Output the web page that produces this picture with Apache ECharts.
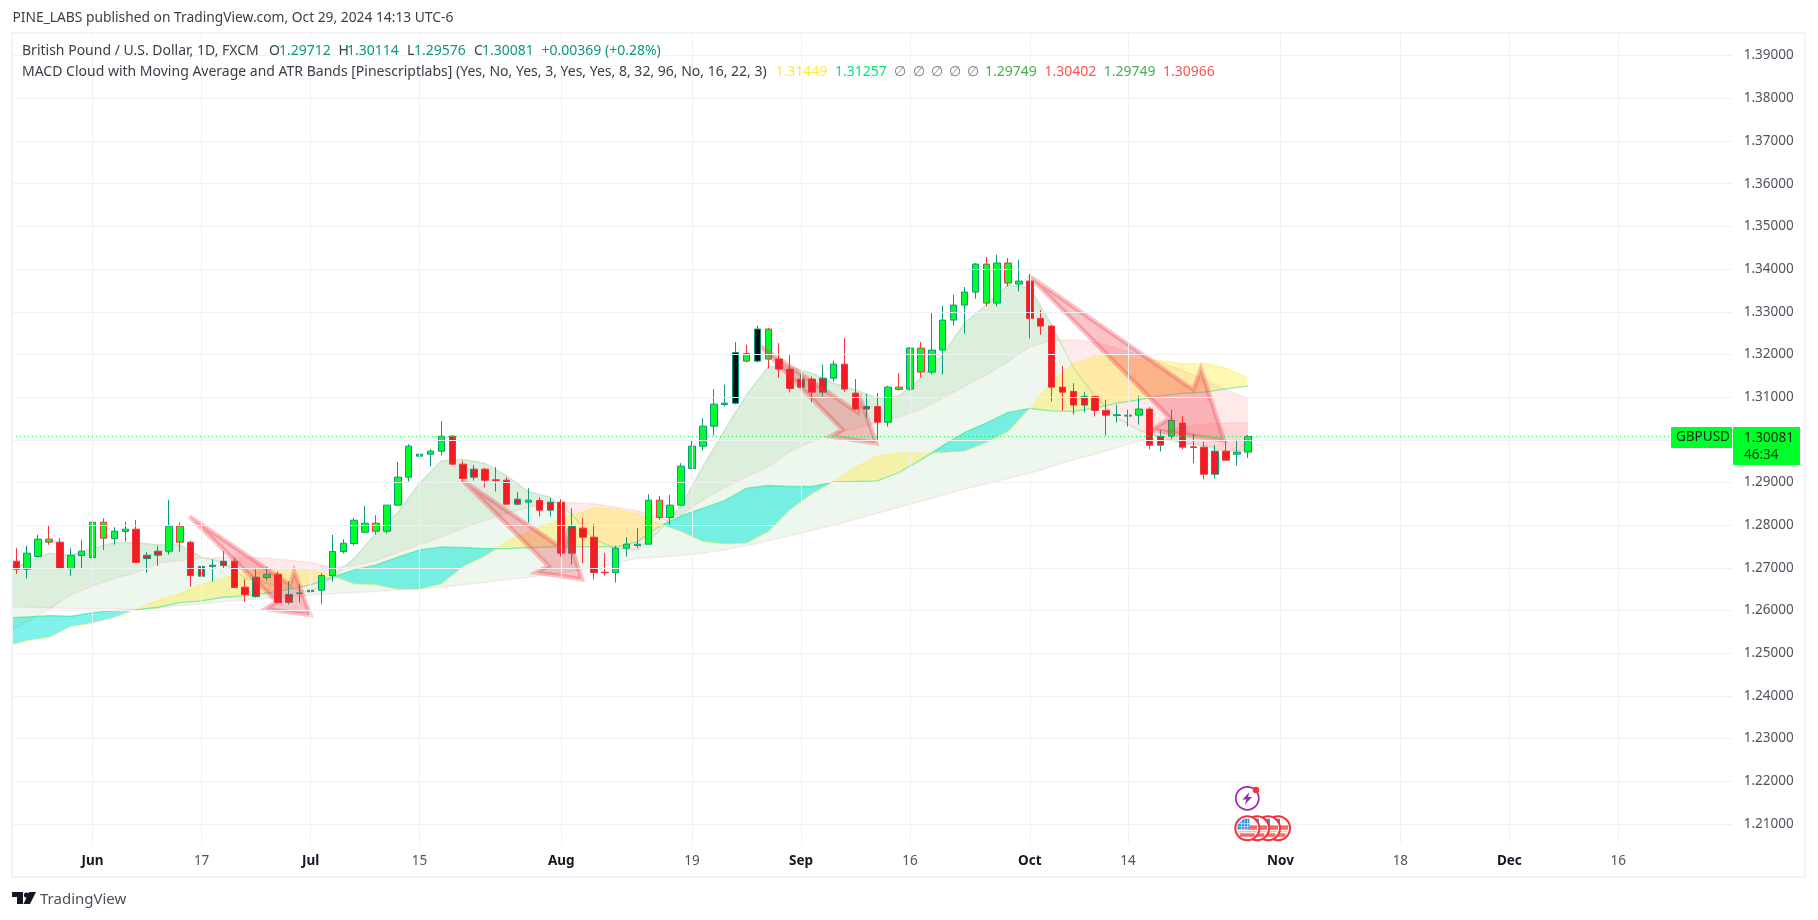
<!DOCTYPE html>
<html><head><meta charset="utf-8">
<style>html,body{margin:0;padding:0;background:#fff}#c{width:1818px;height:920px}</style>
<script src="https://cdn.jsdelivr.net/npm/echarts@6/dist/echarts.min.js"></script>
</head><body><div id="c"></div>
<script>
// --- candles: May 23 .. Oct 29 2024, one entry per session
const opens=[1.27156,1.26969,1.27266,1.27602,1.27602,1.26984,1.27289,1.27242,1.27695,1.27687,
1.27852,1.27906,1.27297,1.27391,1.27391,1.27602,1.27602,1.27031,1.27031,1.27156,
1.27156,1.26547,1.26781,1.26773,1.26852,1.26375,1.26398,1.26445,1.26477,1.2682,
1.27383,1.2757,1.27836,1.27859,1.27859,1.28469,1.29125,1.29617,1.29664,1.29734,
1.30086,1.2943,1.29313,1.29313,1.29063,1.29055,1.28609,1.28539,1.28578,1.28539,
1.28539,1.27969,1.2793,1.27719,1.26898,1.26891,1.27461,1.27523,1.27555,1.2818,
1.2818,1.28469,1.29328,1.29852,1.3032,1.30828,1.30859,1.31844,1.31844,1.31891,
1.31891,1.31656,1.31422,1.31422,1.31445,1.31445,1.31773,1.31094,1.30781,1.30781,
1.30414,1.3118,1.31188,1.31586,1.31586,1.32102,1.32805,1.33156,1.33461,1.33203,
1.33203,1.33672,1.33648,1.33719,1.32844,1.32664,1.31234,1.31133,1.31016,1.31016,
1.30688,1.3057,1.30555,1.30578,1.30719,1.30078,1.30086,1.30391,1.29836,1.29828,
1.29734,1.29734,1.29664,1.29712];
const highs=[1.27461,1.27516,1.27773,1.28008,1.27695,1.27461,1.27656,1.2807,1.28164,1.27953,
1.28078,1.28125,1.27367,1.27516,1.28594,1.2807,1.27633,1.27078,1.27203,1.27391,
1.27227,1.26734,1.26969,1.27016,1.26914,1.26687,1.26617,1.27094,1.26875,1.27773,
1.27672,1.28172,1.28453,1.28234,1.28469,1.29484,1.29898,1.29945,1.29781,1.30438,
1.30109,1.29508,1.29414,1.29336,1.29359,1.29125,1.28773,1.28867,1.28656,1.28633,
1.28609,1.28398,1.28164,1.28023,1.27352,1.27516,1.27719,1.2793,1.28727,1.28688,
1.28711,1.29453,1.29969,1.30508,1.31188,1.31289,1.32289,1.32227,1.32672,1.32625,
1.32266,1.31984,1.31539,1.31484,1.31758,1.31852,1.32383,1.31422,1.31078,1.31094,
1.31266,1.31563,1.32172,1.32289,1.32969,1.33141,1.33398,1.33578,1.34141,1.34281,
1.34336,1.34258,1.34219,1.33883,1.33039,1.32688,1.31734,1.31328,1.31117,1.31016,
1.30938,1.3082,1.30703,1.31031,1.30766,1.30234,1.30703,1.30563,1.30141,1.29953,
1.29875,1.29977,1.3,1.30114];
const lows=[1.26859,1.2675,1.27266,1.27539,1.26984,1.26812,1.27,1.26937,1.27422,1.27547,
1.27617,1.27125,1.26891,1.27047,1.27312,1.27375,1.26562,1.26586,1.2668,1.26984,
1.26539,1.26211,1.26305,1.26703,1.26172,1.26141,1.26187,1.26328,1.26156,1.2668,
1.27336,1.27523,1.27836,1.27781,1.27805,1.28469,1.29023,1.29617,1.29375,1.29633,
1.29398,1.29023,1.29047,1.28883,1.28789,1.28492,1.28469,1.28062,1.28203,1.28203,
1.27266,1.27078,1.27109,1.26727,1.2682,1.26656,1.27266,1.27461,1.27555,1.28125,
1.27984,1.28469,1.29313,1.2975,1.30102,1.30781,1.30828,1.31813,1.31813,1.31672,
1.31453,1.31109,1.31211,1.30883,1.31016,1.31367,1.31125,1.30688,1.30508,1.3,
1.30313,1.31156,1.31156,1.31461,1.31531,1.31531,1.3268,1.32492,1.33305,1.33125,
1.33125,1.33594,1.33477,1.32375,1.32461,1.30898,1.3068,1.30594,1.30641,1.30547,
1.30102,1.30406,1.30313,1.30359,1.29781,1.29727,1.30016,1.29781,1.29453,1.29078,
1.29094,1.29523,1.29398,1.29576];
const closes=[1.26969,1.27344,1.27672,1.27672,1.26984,1.27297,1.27391,1.2807,1.2807,1.27859,
1.27906,1.27125,1.27219,1.27297,1.27977,1.27977,1.2682,1.26805,1.27062,1.27055,
1.26539,1.26375,1.26328,1.26852,1.26187,1.26195,1.26414,1.26477,1.2682,1.27383,
1.27578,1.28117,1.28047,1.28047,1.28469,1.29125,1.29852,1.29664,1.29734,1.30086,
1.2943,1.29094,1.29125,1.29055,1.29047,1.28492,1.28492,1.28586,1.28352,1.28352,
1.27344,1.27344,1.27719,1.26891,1.26883,1.27461,1.27555,1.27555,1.28586,1.28586,
1.28469,1.29383,1.29852,1.3032,1.30836,1.30859,1.32047,1.32023,1.32594,1.32594,
1.31656,1.31203,1.31234,1.31117,1.31117,1.31773,1.31188,1.30719,1.30719,1.30414,
1.31234,1.31234,1.32148,1.32148,1.32102,1.32805,1.33156,1.33461,1.34117,1.34117,
1.34141,1.34141,1.33719,1.32844,1.32664,1.31234,1.31117,1.30813,1.30813,1.30688,
1.30578,1.30586,1.30578,1.30719,1.29875,1.29875,1.30453,1.29828,1.2982,1.29195,
1.29195,1.29523,1.29711,1.30081];
// body fill (r/g/k) + border (r/t) as they appear on the chart
const candleKinds=['rr','gt','gt','gr','rr','gt','gt','gt','gr','gt',
'gt','rr','rt','rt','gt','gr','rr','rt','gt','rt',
'rr','rr','rt','gt','rr','rt','gt','gt','gt','gt',
'gt','gt','gt','gr','gt','gt','gt','gt','gt','gt',
'rr','rr','rt','rr','rr','rr','rt','gt','rr','rt',
'rr','rt','rr','rr','rr','gt','gt','gt','gt','gr',
'gt','gt','gt','gt','gt','gt','kt','gr','kt','gr',
'rr','rr','rt','rr','rt','gt','rr','rr','rt','rr',
'gt','gr','gt','gr','gt','gt','gt','gt','gt','gr',
'gt','gr','gt','rr','rr','rr','rr','rr','rt','rr',
'rr','gt','gt','gt','rr','rt','gt','rr','rr','rr',
'rt','rr','gt','gt'];
// --- indicator lines, read every second session from May 22
const humpLine=[1.26875,1.27148,1.27344,1.27297,1.27461,1.27594,1.27594,1.27539,1.27539,1.2725,
1.27125,1.26758,1.26641,1.26523,1.26422,1.26781,1.27227,1.27813,1.28297,1.28984,
1.29508,1.29547,1.29453,1.29156,1.28789,1.28656,1.28242,1.27672,1.27461,1.27422,
1.27875,1.28453,1.29375,1.30234,1.31055,1.31719,1.31719,1.31563,1.31328,1.31172,
1.30977,1.31031,1.31445,1.31992,1.32734,1.33164,1.33633,1.33555,1.32695,1.3168,
1.31016,1.30508,1.30234,1.30039,1.29922,1.29859,1.29727,1.29749];
const upperBand=[1.25469,1.25742,1.26031,1.26367,1.26578,1.26758,1.26891,1.27109,1.27172,1.27227,
1.27242,1.2725,1.27227,1.27187,1.27125,1.27016,1.27047,1.27172,1.27359,1.27539,
1.27734,1.2793,1.28109,1.28281,1.28422,1.28516,1.28531,1.285,1.28422,1.28336,
1.28187,1.28242,1.28594,1.28891,1.29141,1.29375,1.29727,1.29961,1.30156,1.30273,
1.30391,1.30531,1.30719,1.30977,1.3125,1.31523,1.31836,1.32172,1.32328,1.32344,
1.32281,1.32148,1.31992,1.31813,1.31625,1.31406,1.31172,1.30966];
const lowerBand=[1.26094,1.26078,1.26063,1.26047,1.26039,1.26039,1.26031,1.26055,1.26117,1.26156,
1.26211,1.2625,1.26289,1.26328,1.26359,1.26391,1.26422,1.26445,1.26484,1.26523,
1.26547,1.26602,1.26656,1.26719,1.26781,1.26852,1.26922,1.27008,1.27109,1.27227,
1.2725,1.27289,1.27344,1.27422,1.27516,1.27633,1.2775,1.27875,1.28,1.28141,
1.28281,1.28422,1.28562,1.28703,1.28844,1.28969,1.29094,1.29219,1.29375,1.29531,
1.29664,1.2982,1.29977,1.30156,1.30313,1.30367,1.30391,1.30402];
const fastLine=[1.25156,1.25297,1.25375,1.25625,1.25711,1.25844,1.26031,1.2625,1.26391,1.26617,
1.26758,1.26914,1.26969,1.26992,1.26969,1.26812,1.26625,1.26602,1.265,1.265,
1.26625,1.27031,1.27281,1.27617,1.27852,1.28047,1.28242,1.28398,1.28375,1.28266,
1.28031,1.27852,1.27617,1.27562,1.27578,1.27852,1.28359,1.28734,1.29023,1.29359,
1.29625,1.29688,1.29688,1.29703,1.29734,1.29938,1.30195,1.30742,1.31367,1.31781,
1.31953,1.31969,1.31891,1.31859,1.31781,1.31797,1.3168,1.31449];
const slowLine=[1.25828,1.25852,1.25883,1.25867,1.25953,1.26,1.26016,1.26078,1.26187,1.26227,
1.26312,1.26344,1.26406,1.265,1.26602,1.26781,1.26953,1.2707,1.2725,1.27422,
1.27492,1.27477,1.27453,1.27453,1.27477,1.27492,1.275,1.275,1.27484,1.27617,
1.27969,1.28219,1.28398,1.28578,1.28867,1.2893,1.28906,1.28906,1.29016,1.29023,
1.29039,1.29234,1.29531,1.29859,1.30172,1.30391,1.30641,1.30734,1.3068,1.30664,
1.30742,1.30859,1.30938,1.31031,1.31086,1.31117,1.31195,1.31257];
// --- hand-drawn arrows: session number (0 = Jun 3) and price of each vertex
const arrowSessions=[[8.9,18.14,18.5,19.97,15.84,16.91],[33.89,43.3,43.58,44.9,40.7,41.84],
[61.3,70.2,70.5,71.9,67.74,68.81],[85.9,101.0,101.7,103.83,97.2,98.87]];
const arrowPrices=[[1.28203,1.26602,1.26914,1.25898,1.26039,1.26211],[1.29063,1.27422,1.27773,1.26734,1.26891,1.27047],
[1.32188,1.30641,1.30938,1.29922,1.30078,1.30234],[1.33844,1.31172,1.31656,1.29984,1.30234,1.30508]];
// --- axes
const tickDates=['2024-06-03','2024-06-17','2024-07-01','2024-07-15','2024-08-01','2024-08-19','2024-09-02','2024-09-16','2024-10-01','2024-10-14','2024-11-01','2024-11-18','2024-12-02','2024-12-16'];
const tickText=['Jun','17','Jul','15','Aug','19','Sep','16','Oct','14','Nov','18','Dec','16'];
const priceTicks=[1.21,1.22,1.23,1.24,1.25,1.26,1.27,1.28,1.29,1.30,1.31,1.32,1.33,1.34,1.35,1.36,1.37,1.38,1.39];
const lastPrice=1.30081;

const FONT='"Noto Sans"';
const categories=[];
{let d=new Date(Date.UTC(2024,4,22));
 while(categories.length<159){const w=d.getUTCDay();if(w>0&&w<6)categories.push(d.toISOString().slice(0,10));d=new Date(d.getTime()+864e5);}}
const fillCol={r:'#f21c23',g:'#00ff2a',k:'#0f0e0e'}, edgeCol={r:'#f7303a',t:'#089981'};
const candleData=[null].concat(opens.map((o,i)=>{
  const k=candleKinds[i],f=fillCol[k[0]],e=edgeCol[k[1]];
  return {value:[o,closes[i],lows[i],highs[i]],itemStyle:{color:f,color0:f,borderColor:e,borderColor0:e}};
}));
candleData[0]='-';

function bandChildren(api,A,B,colA,colB){
  const P=A.map((v,i)=>api.coord([i*2,v])),Q=B.map((v,i)=>api.coord([i*2,v]));
  const out=[];let up=[P[0]],lo=[Q[0]],s=A[0]>=B[0];
  const flush=(c)=>{if(up.length>1)out.push({type:'polygon',shape:{points:up.concat(lo.slice().reverse())},style:{fill:c,stroke:null}});};
  for(let i=1;i<A.length;i++){
    const t=A[i]>=B[i];
    if(t!==s){
      const d0=P[i-1][1]-Q[i-1][1],d1=P[i][1]-Q[i][1],f=d0/(d0-d1);
      const c=[P[i-1][0]+(P[i][0]-P[i-1][0])*f,P[i-1][1]+(P[i][1]-P[i-1][1])*f];
      up.push(c);lo.push(c);flush(s?colA:colB);up=[c];lo=[c];s=t;
    }
    up.push(P[i]);lo.push(Q[i]);
  }
  flush(s?colA:colB);
  return out;
}
function lineChild(api,A,stroke,w){
  return {type:'polyline',shape:{points:A.map((v,i)=>api.coord([i*2,v]))},style:{fill:null,stroke,lineWidth:w}};
}
const G='rgba(76,175,80,0.10)',R='rgba(255,82,82,0.13)';
function bandRender(p,api){return {type:'group',children:[
  ...bandChildren(api,humpLine,upperBand,G,R),
  ...bandChildren(api,humpLine,lowerBand,G,R),
  ...bandChildren(api,fastLine,slowLine,'rgba(255,235,59,0.38)','rgba(0,230,215,0.5)'),
  lineChild(api,humpLine,'rgba(76,175,80,0.2)',1.5),
  lineChild(api,upperBand,'rgba(255,82,82,0.1)',1.5),
  lineChild(api,lowerBand,'rgba(255,82,82,0.1)',1.5),
  lineChild(api,fastLine,'rgba(255,235,59,0.4)',1.2),
  lineChild(api,slowLine,'rgba(0,230,118,0.45)',1.3)
]};}
function vertex(api,s,p){
  const c=s+8,a=Math.floor(c),f=c-a,x0=api.coord([a,p]),x1=api.coord([a+1,p]);
  return [x0[0]+(x1[0]-x0[0])*f,x0[1]];
}
function arrowRender(p,api){
  const i=api.value(0);
  return {type:'polygon',shape:{points:arrowSessions[i].map((s,j)=>vertex(api,s,arrowPrices[i][j]))},
    style:{fill:'rgba(242,54,69,0.3)',stroke:'rgba(242,54,69,0.3)',lineWidth:4.5,lineJoin:'miter'}};
}
const txt=(x,y,text,fill,size,weight)=>({type:'text',x,y,z:200,silent:true,style:{text,fill,font:`${weight||'normal'} ${size||14}px ${FONT}`,textVerticalAlign:'middle'}});
const gfx=[
 {type:'rect',z:100,silent:true,shape:{x:0,y:33,width:11.5,height:812},style:{fill:'#fff'}},
 {type:'rect',z:101,silent:true,shape:{x:12,y:33,width:1793,height:844},style:{fill:null,stroke:'#f0f3fa',lineWidth:2}},
 txt(12.5,18,'PINE_LABS published on TradingView.com, Oct 29, 2024 14:13 UTC-6','#3a3d47',13.8),
 txt(22,51,'British Pound / U.S. Dollar, 1D, FXCM','#3a3d47'),
 txt(269,51,'O','#3a3d47'),txt(279,51,'1.29712','#089981'),
 txt(338.5,51,'H','#3a3d47'),txt(347,51,'1.30114','#089981'),
 txt(407,51,'L','#3a3d47'),txt(414,51,'1.29576','#089981'),
 txt(474,51,'C','#3a3d47'),txt(482,51,'1.30081','#089981'),
 txt(541.5,51,'+0.00369','#089981'),txt(605,51,'(+0.28%)','#089981'),
 txt(22,72,'MACD Cloud with Moving Average and ATR Bands [Pinescriptlabs] (Yes, No, Yes, 3, Yes, Yes, 8, 32, 96, No, 16, 22, 3)','#3a3d47'),
 txt(775.4,72,'1.31449','#ffeb3b'),txt(835,72,'1.31257','#00e676'),
 txt(894.4,72,'∅','#787b86'),txt(912.8,72,'∅','#787b86'),txt(930.8,72,'∅','#787b86'),txt(949,72,'∅','#787b86'),txt(967,72,'∅','#787b86'),
 txt(985,72,'1.29749','#4caf50'),txt(1044.4,72,'1.30402','#ff5252'),txt(1103.7,72,'1.29749','#4caf50'),txt(1163,72,'1.30966','#ff5252'),
 // last price tags
 {type:'rect',z:150,silent:true,shape:{x:1671,y:427,width:61,height:21,r:1},style:{fill:'#00ff2a'}},
 {type:'rect',z:150,silent:true,shape:{x:1733,y:427,width:67,height:38,r:1},style:{fill:'#00ff2a'}},
 txt(1676,437.5,'GBPUSD','#0b2a10',13.5),txt(1744,438.5,'1.30081','#0b2a10',13.5),txt(1744,455,'46:34','#0b3a14',13.5),
 // TradingView mark
 {type:'polygon',z:200,silent:true,shape:{points:[[12,892],[23,892],[23,904],[17,904],[17,897],[12,897]]},style:{fill:'#131722'}},
 {type:'circle',z:200,silent:true,shape:{cx:26.5,cy:895,r:2.6},style:{fill:'#131722'}},
 {type:'polygon',z:200,silent:true,shape:{points:[[29,892],[36,892],[30,904],[23.5,904]]},style:{fill:'#131722'}},
 txt(40,900,'TradingView','#4a4e5a',15),
 // event marks
 {type:'circle',z:160,silent:true,shape:{cx:1247.3,cy:798.3,r:11.5},style:{fill:'#fff',stroke:'#9c27b0',lineWidth:1.7}},
 {type:'polygon',z:161,silent:true,shape:{points:[[1249.5,792],[1242.5,799.5],[1246.5,799.5],[1244.5,805],[1252,797],[1248,797]]},style:{fill:'#9c27b0'}},
 {type:'circle',z:162,silent:true,shape:{cx:1256,cy:790,r:3.2},style:{fill:'#f7303a'}}
];
[1278,1268,1257,1247.3].forEach((cx,n)=>{
 const cy=828.3,z=170+n*3;
 gfx.push({type:'circle',z,silent:true,shape:{cx,cy,r:12},style:{fill:'#fff',stroke:'#f7303a',lineWidth:2}});
 gfx.push({type:'rect',z:z+1,silent:true,shape:{x:cx+1,y:cy-3,width:9,height:4.5},style:{fill:'#f76a6a'}});
 gfx.push({type:'rect',z:z+1,silent:true,shape:{x:cx-9.5,y:cy+2.5,width:19,height:1.5},style:{fill:'#fbb'}});
 gfx.push({type:'rect',z:z+1,silent:true,shape:{x:cx-7.5,y:cy+5,width:15,height:3.5},style:{fill:'#f76a6a'}});
 gfx.push({type:'polygon',z:z+2,silent:true,shape:{points:[[cx-3.5,cy-9.5],[cx+2,cy-9.5],[cx+2,cy+1.5],[cx-9.7,cy+1.5],[cx-9.7,cy-3.5]]},style:{fill:'#2f8fef'}});
 if(n===3)[-6,-3,0].forEach(d=>{
   gfx.push({type:'rect',z:z+3,silent:true,shape:{x:cx+d,y:cy-9,width:0.8,height:10},style:{fill:'#cfe5fb'}});
   gfx.push({type:'rect',z:z+3,silent:true,shape:{x:cx-9,y:cy+d+1,width:11,height:0.8},style:{fill:'#cfe5fb'}});
 });
});
const chart=echarts.init(document.getElementById('c'),null,{renderer:'canvas'});
chart.setOption({
 animation:false,backgroundColor:'#fff',
 grid:{left:-0.35,top:33,width:1733.1,height:810,containLabel:false},
 xAxis:{type:'category',data:categories,boundaryGap:true,axisLine:{show:false},axisTick:{show:false},splitLine:{show:false},
  axisLabel:{margin:11,hideOverlap:false,interval:(i,v)=>tickDates.includes(v),
   formatter:v=>{const t=tickText[tickDates.indexOf(v)];return /^\d/.test(t)?`{n|${t}}`:`{m|${t}}`;},
   rich:{n:{fontFamily:FONT,fontSize:13.5,color:'#50535e'},m:{fontFamily:FONT,fontSize:13.5,fontWeight:'bold',color:'#131722'}}}},
 yAxis:{type:'value',position:'right',min:1.20555,max:1.3953,axisLine:{show:false},axisTick:{show:false},splitLine:{show:false},
  axisLabel:{customValues:priceTicks,margin:11,padding:[3,0,0,0],formatter:v=>v.toFixed(5),fontFamily:FONT,fontSize:13.5,color:'#50535e'}},
 series:[
  {type:'line',z:1,data:[],silent:true,markLine:{silent:true,symbol:'none',animation:false,precision:5,label:{show:false},
    lineStyle:{color:'#f0f1f4',width:1,type:'solid'},
    data:[...tickDates.map(d=>({xAxis:d})),...priceTicks.map(p=>({yAxis:p}))]}},
  {type:'custom',z:2,clip:true,silent:true,renderItem:bandRender,data:[[0,1.3]]},
  {type:'candlestick',z:3,barWidth:7,data:candleData,silent:true,itemStyle:{borderWidth:1},
   markLine:{silent:true,symbol:'none',animation:false,precision:5,label:{show:false},lineStyle:{color:'#1fe04a',width:1,type:[1,3]},data:[{yAxis:lastPrice}]}},
  {type:'custom',z:4,clip:true,silent:true,renderItem:arrowRender,data:[[0],[1],[2],[3]]}
 ],
 graphic:{elements:gfx}
});
</script></body></html>
